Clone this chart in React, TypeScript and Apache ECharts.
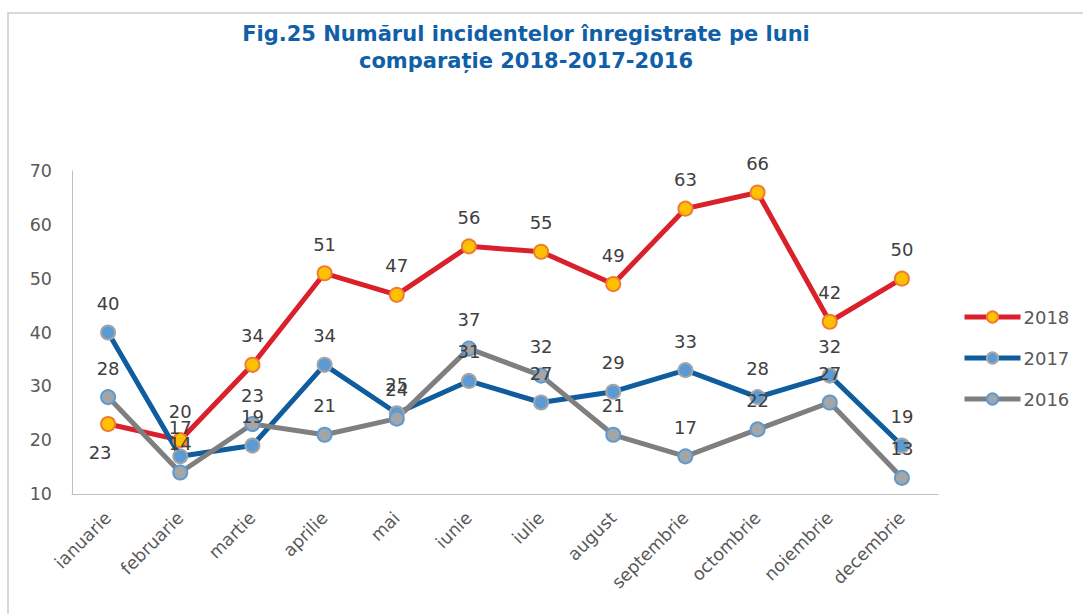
import React, { useEffect, useRef } from "react";
import * as echarts from "echarts";

const months = ["ianuarie", "februarie", "martie", "aprilie", "mai", "iunie", "iulie", "august", "septembrie", "octombrie", "noiembrie", "decembrie"];
const v2018 = [23, 20, 34, 51, 47, 56, 55, 49, 63, 66, 42, 50];
const v2017 = [40, 17, 19, 34, 25, 31, 27, 29, 33, 28, 32, 19];
const v2016 = [28, 14, 23, 21, 24, 37, 32, 21, 17, 22, 27, 13];
const seriesNames = ["2018", "2017", "2016"];
const titleLines = ["Fig.25 Numărul incidentelor înregistrate pe luni", "comparație 2018-2017-2016"];

const FONT = "DejaVu Sans";

export default function App() {
  const ref = useRef<HTMLDivElement>(null);
  useEffect(() => {
    if (!ref.current) return;
    const chart = echarts.init(ref.current, undefined, { renderer: "svg" });
    const labelCommon = {
      show: true,
      position: "top",
      distance: 12,
      color: "#404040",
      fontSize: 18,
      fontFamily: FONT,
    };
    const mk = (name: string, data: any[], line: string, fill: string, border: string) => ({
      name,
      type: "line",
      data,
      symbol: "circle",
      symbolSize: 14,
      lineStyle: { color: line, width: 5 },
      itemStyle: { color: fill, borderColor: border, borderWidth: 2 },
      label: labelCommon,
      emphasis: { disabled: true },
    });
    const d2018: any[] = v2018.map((v, i) =>
      i === 0 ? { value: v, label: { position: "bottom", distance: 11, offset: [-8, 0] } } : v
    );
    const titleStyle = { fill: "#1060A8", fontSize: 21, fontWeight: "bold", fontFamily: FONT, textAlign: "center", textVerticalAlign: "middle" };
    chart.setOption({
      animation: false,
      backgroundColor: "#ffffff",
      graphic: [
        {
          type: "polyline",
          shape: { points: [[8, 614], [8, 13], [1083, 13]] },
          style: { stroke: "#D9D9D9", lineWidth: 2, fill: null },
        },
        { type: "text", x: 526, y: 34, style: { ...titleStyle, text: titleLines[0] } },
        { type: "text", x: 526, y: 61, style: { ...titleStyle, text: titleLines[1] } },
      ],
      legend: {
        orient: "vertical",
        left: 957,
        top: 303,
        itemWidth: 56,
        itemHeight: 14,
        itemGap: 23,
        lineStyle: { width: 5 },
        textStyle: { color: "#595959", fontSize: 18, fontFamily: FONT, padding: [0, 0, 0, -2] },
        data: seriesNames,
      },
      grid: { left: 72, right: 145, top: 171, bottom: 120, containLabel: false },
      xAxis: {
        type: "category",
        data: months,
        boundaryGap: true,
        axisLine: { show: true, lineStyle: { color: "#BFBFBF", width: 1 } },
        axisTick: { show: false },
        axisLabel: { rotate: 45, color: "#595959", fontSize: 17.5, fontFamily: FONT, margin: 21, interval: 0 },
      },
      yAxis: {
        type: "value",
        min: 10,
        max: 70,
        interval: 10,
        axisLine: { show: true, lineStyle: { color: "#BFBFBF", width: 1 } },
        axisTick: { show: false },
        splitLine: { show: false },
        axisLabel: { color: "#595959", fontSize: 17.5, fontFamily: FONT, margin: 20 },
      },
      series: [
        mk("2018", d2018, "#D9202B", "#FFC000", "#ED7D31"),
        mk("2017", v2017, "#0F5D9E", "#5B9BD5", "#A5A5A5"),
        mk("2016", v2016, "#7F7F7F", "#A5A5A5", "#5B9BD5"),
      ],
    });
    return () => chart.dispose();
  }, []);
  return <div ref={ref} style={{ position: "fixed", left: 0, top: 0, width: 1083, height: 614 }} />;
}
